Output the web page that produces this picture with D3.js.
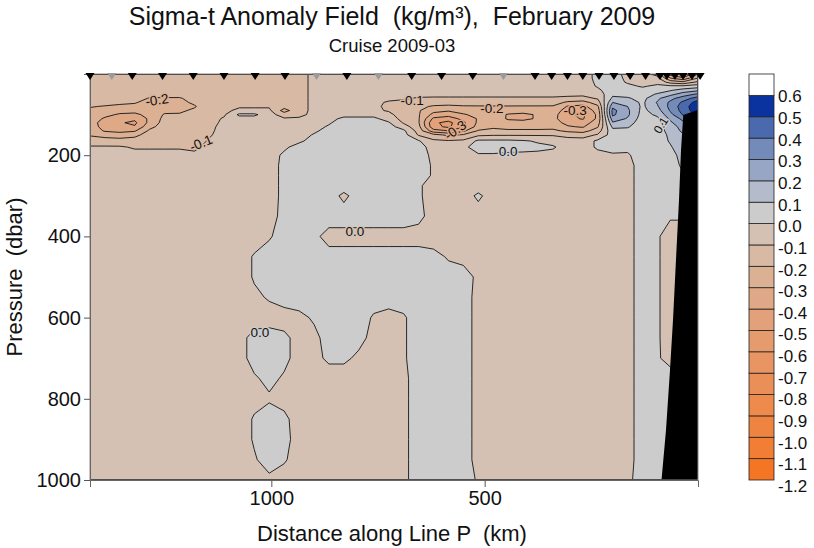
<!DOCTYPE html>
<html><head><meta charset="utf-8">
<script src="https://cdn.jsdelivr.net/npm/d3@7"></script>
<style>
body{margin:0;background:#fff;}
svg text{font-family:"Liberation Sans",Arial,Helvetica,sans-serif;fill:#111;white-space:pre;}
</style></head><body>
<svg id="chart" width="814" height="548"></svg>
<script>
// ---------- DATA ----------
// grid columns: distance along Line P (km)
const distKm = [1425,1390,1355,1320,1285,1250,1215,1180,1145,1110,1075,1040,1005,970,935,900,865,830,795,760,725,690,655,620,585,550,515,480,445,410,375,340,305,270,235,200,165,130,95,65,35,0];
// grid rows: pressure (dbar)
const pressure = [0,10,20,30,40,50,60,70,80,90,100,110,120,130,140,150,165,180,200,225,250,275,300,350,400,450,500,550,600,650,700,750,800,850,900,950,1000];
// sigma-t anomaly (kg/m3), one row per pressure level, one value per distance column
const sigmaT = [
[-.15,-.15,-.15,-.15,-.15,-.15,-.15,-.14,-.13,-.13,-.13,-.13,-.13,-.13,-.13,-.08,-.05,-.05,-.05,-.05,-.05,-.05,-.05,-.05,-.05,-.05,-.05,-.05,-.05,-.05,-.05,-.05,-.05,-.05,.03,.04,-.03,-.08,-.12,-.45,-.55,-.30],
[-.15,-.15,-.15,-.15,-.15,-.15,-.15,-.14,-.13,-.13,-.13,-.13,-.13,-.13,-.13,-.08,-.05,-.05,-.05,-.05,-.05,-.05,-.05,-.05,-.05,-.05,-.05,-.05,-.05,-.05,-.05,-.05,-.05,-.05,.03,.04,-.02,-.06,-.08,-.30,-.38,-.20],
[-.15,-.15,-.15,-.15,-.15,-.15,-.15,-.14,-.13,-.13,-.13,-.13,-.13,-.13,-.13,-.08,-.05,-.05,-.05,-.05,-.05,-.05,-.05,-.05,-.05,-.05,-.05,-.05,-.05,-.05,-.05,-.05,-.05,-.05,.02,.04,-.01,-.04,-.03,-.14,-.18,-.08],
[-.15,-.15,-.15,-.15,-.15,-.15,-.15,-.14,-.13,-.13,-.13,-.13,-.13,-.13,-.13,-.08,-.05,-.05,-.05,-.05,-.05,-.05,-.05,-.05,-.05,-.05,-.05,-.05,-.05,-.05,-.05,-.05,-.05,-.05,.01,.05,.02,-.01,.02,.02,.02,.05],
[-.15,-.15,-.15,-.15,-.15,-.15,-.15,-.14,-.13,-.13,-.13,-.13,-.13,-.13,-.13,-.08,-.05,-.05,-.05,-.05,-.05,-.05,-.05,-.05,-.05,-.05,-.05,-.05,-.05,-.05,-.05,-.05,-.05,-.05,-.02,.06,.04,.03,.06,.09,.14,.18],
[-.15,-.15,-.15,-.15,-.15,-.16,-.16,-.14,-.13,-.13,-.13,-.13,-.13,-.13,-.13,-.08,-.05,-.05,-.05,-.05,-.06,-.07,-.07,-.08,-.08,-.08,-.08,-.08,-.08,-.08,-.08,-.08,-.08,-.08,-.06,.08,.07,.06,.11,.17,.25,.32],
[-.15,-.15,-.15,-.15,-.21,-.21,-.21,-.16,-.13,-.13,-.13,-.13,-.13,-.13,-.13,-.08,-.05,-.05,-.05,-.05,-.08,-.09,-.11,-.11,-.11,-.11,-.11,-.11,-.11,-.11,-.11,-.11,-.12,-.13,-.09,.12,.11,.07,.18,.27,.35,.45],
[-.15,-.15,-.18,-.19,-.24,-.24,-.23,-.18,-.13,-.13,-.13,-.13,-.13,-.13,-.13,-.08,-.05,-.05,-.05,-.08,-.11,-.12,-.15,-.16,-.16,-.15,-.14,-.13,-.13,-.14,-.14,-.15,-.22,-.24,-.15,.20,.16,.08,.21,.32,.42,.55],
[-.19,-.21,-.22,-.23,-.25,-.24,-.23,-.21,-.13,-.13,-.11,-.11,-.11,-.16,-.13,-.08,-.05,-.05,-.05,-.08,-.12,-.15,-.18,-.21,-.22,-.21,-.21,-.21,-.21,-.21,-.21,-.21,-.31,-.33,-.22,.28,.20,.08,.19,.33,.45,.58],
[-.23,-.25,-.27,-.27,-.26,-.23,-.22,-.18,-.13,-.12,-.08,-.08,-.08,-.24,-.13,-.08,-.05,-.05,-.05,-.08,-.11,-.16,-.19,-.27,-.29,-.26,-.24,-.22,-.24,-.26,-.25,-.24,-.35,-.38,-.26,.33,.22,.07,.16,.31,.44,.57],
[-.25,-.28,-.31,-.32,-.27,-.19,-.19,-.16,-.13,-.11,.02,.02,-.06,-.15,-.12,-.08,-.05,-.03,-.03,-.03,-.07,-.16,-.19,-.33,-.36,-.31,-.27,-.24,-.31,-.32,-.29,-.26,-.38,-.42,-.28,.32,.22,.06,.12,.27,.41,.52],
[-.26,-.31,-.36,-.38,-.28,-.17,-.16,-.14,-.13,-.09,-.04,-.04,-.04,-.09,-.09,-.07,-.03,.02,.02,.02,-.04,-.14,-.19,-.42,-.45,-.37,-.29,-.25,-.31,-.32,-.29,-.27,-.37,-.41,-.28,.26,.19,.05,.08,.22,.33,.45],
[-.27,-.33,-.39,-.42,-.27,-.16,-.15,-.14,-.13,-.08,-.05,-.05,-.05,-.06,-.07,-.05,-.01,.04,.04,.04,.01,-.11,-.19,-.48,-.53,-.42,-.28,-.24,-.27,-.27,-.26,-.26,-.33,-.35,-.25,.19,.15,.04,.06,.18,.28,.40],
[-.26,-.33,-.37,-.39,-.23,-.15,-.15,-.14,-.13,-.06,-.05,-.05,-.05,-.05,-.05,-.03,.01,.04,.04,.04,.04,-.05,-.17,-.47,-.52,-.41,-.26,-.22,-.24,-.24,-.24,-.23,-.29,-.31,-.21,.12,.11,.04,.05,.15,.24,.35],
[-.24,-.31,-.33,-.31,-.18,-.15,-.15,-.14,-.12,-.06,-.05,-.05,-.05,-.05,-.05,-.02,.04,.04,.04,.04,.04,.02,-.14,-.36,-.40,-.32,-.19,-.17,-.18,-.18,-.18,-.18,-.22,-.24,-.15,.07,.07,.04,.05,.14,.22,.30],
[-.21,-.24,-.25,-.23,-.15,-.14,-.14,-.14,-.11,-.06,-.05,-.05,-.05,-.05,-.05,.01,.04,.04,.04,.04,.04,.04,-.11,-.17,-.22,-.19,-.12,-.11,-.11,-.11,-.11,-.11,-.13,-.14,-.09,.05,.04,.04,.05,.12,.19,.25],
[-.15,-.15,-.16,-.15,-.14,-.13,-.13,-.14,-.09,-.06,-.05,-.05,-.05,-.05,-.02,.04,.04,.04,.04,.04,.04,.04,.01,-.08,-.09,-.08,.02,.02,.02,.01,-.01,-.03,-.06,-.06,.02,.04,.04,.04,.05,.11,.18,.20],
[-.09,-.09,-.09,-.11,-.11,-.11,-.11,-.12,-.07,-.05,-.05,-.05,-.05,-.02,.04,.04,.04,.04,.04,.04,.04,.04,.04,-.04,-.05,-.02,.04,.04,.04,.03,.02,.01,-.04,-.03,.01,.03,.02,.04,.05,.09,.16,.15],
[-.06,-.06,-.06,-.07,-.07,-.07,-.07,-.08,-.05,-.05,-.05,-.05,-.05,.02,.04,.04,.04,.04,.04,.04,.04,.04,.04,-.02,-.05,-.05,-.01,-.01,-.02,-.02,-.02,-.03,-.05,-.05,-.02,-.01,-.01,.04,.05,.06,.14,.10],
[-.05,-.05,-.05,-.05,-.05,-.05,-.05,-.05,-.05,-.05,-.05,-.05,-.05,.03,.04,.04,.04,.04,.04,.04,.04,.04,.04,-.01,-.05,-.05,-.05,-.05,-.05,-.05,-.05,-.05,-.05,-.05,-.05,-.04,-.03,.04,.04,.05,.12,.06],
[-.05,-.05,-.05,-.05,-.05,-.05,-.05,-.05,-.05,-.05,-.05,-.05,-.05,.03,.04,.04,.04,.04,.04,.04,.04,.04,.04,-.01,-.05,-.05,-.05,-.05,-.05,-.05,-.05,-.05,-.05,-.05,-.05,-.05,-.03,.04,.04,.04,.09,.04],
[-.05,-.05,-.05,-.05,-.05,-.05,-.05,-.05,-.05,-.05,-.05,-.05,-.05,.03,.04,.04,.04,.04,.04,.04,.04,.04,.01,-.03,-.05,-.05,-.05,-.05,-.05,-.05,-.05,-.05,-.05,-.05,-.05,-.05,-.03,.04,.04,.04,.06,.04],
[-.05,-.05,-.05,-.05,-.05,-.05,-.05,-.05,-.05,-.05,-.05,-.05,-.05,.03,.04,.04,.04,-.02,.04,.04,.04,.04,.01,-.03,-.05,-.05,.02,-.05,-.05,-.05,-.05,-.05,-.05,-.05,-.05,-.05,-.03,.04,.04,.04,.04,.04],
[-.05,-.05,-.05,-.05,-.05,-.05,-.05,-.05,-.05,-.05,-.05,-.05,-.05,.04,.04,.04,.04,.04,.04,.04,.04,.04,.02,-.03,-.05,-.05,-.05,-.05,-.05,-.05,-.05,-.05,-.05,-.05,-.05,-.05,-.03,.04,.04,.01,.01,.04],
[-.05,-.05,-.05,-.05,-.05,-.05,-.05,-.05,-.05,-.05,-.05,-.05,-.01,.04,.04,.02,-.03,-.03,-.03,-.03,-.03,-.03,-.03,-.05,-.05,-.04,-.05,-.05,-.05,-.05,-.05,-.05,-.05,-.05,-.05,-.05,-.03,.04,.01,-.04,-.04,.04],
[-.05,-.05,-.05,-.05,-.05,-.05,-.05,-.05,-.05,-.05,-.05,.01,.04,.03,.03,.03,.03,.03,.03,.03,.03,.03,.03,.03,-.01,-.03,-.05,-.05,-.05,-.05,-.05,-.05,-.05,-.05,-.05,-.05,-.03,.04,.01,-.04,-.04,.04],
[-.05,-.05,-.05,-.05,-.05,-.05,-.05,-.05,-.05,-.05,-.05,.01,.04,.04,.04,.04,.04,.04,.04,.04,.04,.04,.04,.04,.04,.04,-.02,-.05,-.05,-.05,-.05,-.05,-.05,-.05,-.05,-.05,-.03,.04,.01,-.04,-.04,.04],
[-.05,-.05,-.05,-.05,-.05,-.05,-.05,-.05,-.05,-.05,-.05,-.02,.01,.04,.04,.04,.04,.04,.04,.04,.04,.04,.04,.04,.04,.04,-.03,-.05,-.05,-.05,-.05,-.05,-.05,-.05,-.05,-.05,-.03,.04,.01,-.04,-.04,.04],
[-.05,-.05,-.05,-.05,-.05,-.05,-.05,-.05,-.05,-.05,-.04,-.04,-.04,-.04,-.02,.01,.04,.04,.04,-.01,-.03,-.01,.04,.04,.04,.04,-.03,-.05,-.05,-.05,-.05,-.05,-.05,-.05,-.05,-.05,-.03,.04,.01,-.04,-.04,.04],
[-.05,-.05,-.05,-.05,-.05,-.05,-.05,-.05,-.05,-.05,-.03,.03,.04,.02,-.03,-.02,.03,.04,.03,-.03,-.04,-.01,.04,.04,.04,.04,-.03,-.05,-.05,-.05,-.05,-.05,-.05,-.05,-.05,-.05,-.03,.04,.01,-.04,-.04,.04],
[-.05,-.05,-.05,-.05,-.05,-.05,-.05,-.05,-.05,-.05,-.03,.03,.04,.02,-.03,-.03,.02,.02,-.02,-.04,-.04,-.01,.04,.04,.04,.04,-.03,-.05,-.05,-.05,-.05,-.05,-.05,-.05,-.05,-.05,-.03,.04,.01,-.03,-.03,.04],
[-.05,-.05,-.05,-.05,-.05,-.05,-.05,-.05,-.05,-.05,-.04,-.01,.02,-.01,-.04,-.05,-.05,-.05,-.05,-.05,-.05,-.02,.04,.04,.04,.04,-.03,-.05,-.05,-.05,-.05,-.05,-.05,-.05,-.05,-.05,-.03,.04,.04,.04,.04,.04],
[-.05,-.05,-.05,-.05,-.05,-.05,-.05,-.05,-.05,-.05,-.05,-.03,-.01,-.03,-.05,-.05,-.05,-.05,-.05,-.05,-.05,-.02,.04,.04,.04,.04,-.03,-.05,-.05,-.05,-.05,-.05,-.05,-.05,-.05,-.05,-.03,.04,.04,.04,.04,.04],
[-.05,-.05,-.05,-.05,-.05,-.05,-.05,-.05,-.05,-.05,-.05,.01,.04,.02,-.04,-.05,-.05,-.05,-.05,-.05,-.05,-.02,.04,.04,.04,.04,-.03,-.05,-.05,-.05,-.05,-.05,-.05,-.05,-.05,-.05,-.03,.04,.04,.04,.04,.04],
[-.05,-.05,-.05,-.05,-.05,-.05,-.05,-.05,-.05,-.05,-.05,.01,.04,.03,-.04,-.05,-.05,-.05,-.05,-.05,-.05,-.02,.04,.04,.04,.04,-.03,-.05,-.05,-.05,-.05,-.05,-.05,-.05,-.05,-.05,-.03,.04,.04,.04,.04,.04],
[-.05,-.05,-.05,-.05,-.05,-.05,-.05,-.05,-.05,-.05,-.05,-.01,.04,.01,-.04,-.05,-.05,-.05,-.05,-.05,-.05,-.02,.04,.04,.04,.04,-.03,-.05,-.05,-.05,-.05,-.05,-.05,-.05,-.05,-.05,-.03,.04,.04,.04,.04,.04],
[-.05,-.05,-.05,-.05,-.05,-.05,-.05,-.05,-.05,-.05,-.05,-.04,-.02,-.04,-.05,-.05,-.05,-.05,-.05,-.05,-.05,-.02,.04,.04,.04,.04,-.01,-.05,-.05,-.05,-.05,-.05,-.05,-.05,-.05,-.05,-.02,.04,.04,.04,.04,.04]
];
// contour levels (lower bound of each colour band) and band colours
const levels = [-1.2,-1.1,-1.0,-0.9,-0.8,-0.7,-0.6,-0.5,-0.4,-0.3,-0.2,-0.1,0.0,0.1,0.2,0.3,0.4,0.5,0.6];
const levelColors = ["#f47624","#f27d34","#ef8441","#ed8a4c","#ea8f57","#e89563","#e59b6e","#e2a17a","#dfa887","#dcb093","#d8b9a3","#d4c1b3","#cccccc","#b4bbcb","#97a6c4","#738bb9","#4a6aad","#0a33a0","#ffffff"];
// CTD stations along the line (km) and whether the marker is grey
const stationKm = [1425,1374,1326,1255,1183,1111,1038,968,894,823,749,671,601,528,456,382,343,306,270,232,197,159,123,89,73,54,35,14,-5];
const stationGrey = [0,1,0,0,0,0,0,0,1,0,1,0,0,0,1,0,0,0,0,0,0,0,0,0,0,0,0,0,0];
// bottom topography (continental slope)
const bathyKm = [85.5,75,65.6,58.6,51.6,44.5,39.8,34.5,0];
const bathyDbar = [1000,877,729,606,458,310,187,101,88];
// contour labels
const labelText = ["-0.2","-0.1","-0.1","-0.2","-0.3","-0.3","0.0","0.0","0.0","0.1"];
const labelKm   = [1268,1165,670,483,288,569,445,804,1027,87];
const labelDbar = [64,170,64,84,89,138,190,387,635,126];
const labelAngle= [-8,-22,0,0,0,-35,0,0,0,-58];
// axis ticks
const xTicks = [1000,500];
const yTicks = [200,400,600,800,1000];

// ---------- DRAW ----------
const svg = d3.select("#chart");
const x = d3.scaleLinear().domain([1425,0]).range([90,698]);
const y = d3.scaleLinear().domain([0,1000]).range([74,480]);

const nx = distKm.length, ny = pressure.length;
const colToKm = d3.scaleLinear().domain(d3.range(nx)).range(distKm);
const rowToDbar = d3.scaleLinear().domain(d3.range(ny)).range(pressure);
const kmToCol = d3.scaleLinear().domain(distKm).range(d3.range(nx));
const dbarToRow = d3.scaleLinear().domain(pressure).range(d3.range(ny));
const cl = (c,n)=>Math.max(0,Math.min(n-1,c-0.5));
const proj = d3.geoTransform({point(px,py){ this.stream.point(x(colToKm(cl(px,nx))), y(rowToDbar(cl(py,ny)))); }});
const path = d3.geoPath(proj);

const bad = sigmaT.findIndex(r=>r.length!==nx);
if (bad>=0) svg.append("text").attr("x",100).attr("y",300).text("row "+bad+" len "+sigmaT[bad].length);

const flat = sigmaT.flat();
const contours = d3.contours().size([nx,ny]).thresholds(levels)(flat);

svg.append("defs").append("clipPath").attr("id","plotclip")
  .append("rect").attr("x",90).attr("y",74).attr("width",608).attr("height",406);

const plot = svg.append("g").attr("clip-path","url(#plotclip)");
plot.append("g").selectAll("path").data(contours).join("path")
  .attr("d",path).attr("fill",(d,i)=>levelColors[i]).attr("stroke","none");
plot.append("g").selectAll("path").data(contours.slice(1)).join("path")
  .attr("d",path).attr("fill","none").attr("stroke","#151515").attr("stroke-width",0.9).attr("stroke-linejoin","round");

// contour labels
function sample(km,p){
  const c = kmToCol(km), r = dbarToRow(p);
  const c0 = Math.max(0,Math.min(nx-2,Math.floor(c))), r0 = Math.max(0,Math.min(ny-2,Math.floor(r)));
  const fc = c-c0, fr = r-r0;
  const v00=sigmaT[r0][c0], v01=sigmaT[r0][c0+1], v10=sigmaT[r0+1][c0], v11=sigmaT[r0+1][c0+1];
  return (v00*(1-fc)+v01*fc)*(1-fr)+(v10*(1-fc)+v11*fc)*fr;
}
function bandColor(v){ let i=d3.bisectRight(levels,v)-1; i=Math.max(0,Math.min(levels.length-1,i)); return levelColors[i]; }
plot.append("g").selectAll("text").data(labelText).join("text")
  .attr("transform",(d,i)=>`translate(${x(labelKm[i])},${y(labelDbar[i])}) rotate(${labelAngle[i]})`)
  .attr("text-anchor","middle").attr("dy","0.35em")
  .style("font-size",(d,i)=>i===9?"12px":"13.5px")
  .style("paint-order","stroke").attr("stroke",(d,i)=>bandColor(sample(labelKm[i],labelDbar[i])))
  .attr("stroke-width",3).attr("stroke-linejoin","round")
  .text(d=>d);

// bathymetry
const bathy = bathyKm.map((k,i)=>[k,bathyDbar[i]]);
plot.append("path").datum(bathy)
  .attr("d",d3.area().x(d=>x(d[0])).y0(y(1000)+2).y1(d=>y(d[1])))
  .attr("fill","#000");

// frame
svg.append("rect").attr("x",90).attr("y",74).attr("width",608).attr("height",406)
  .attr("fill","none").attr("stroke","#8a8a8a").attr("stroke-width",1);

// axes
const yAxis = svg.append("g").attr("transform","translate(90,0)")
  .call(d3.axisLeft(y).tickValues(yTicks).tickSize(6).tickPadding(3).tickFormat(d=>String(d)));
const xAxis = svg.append("g").attr("transform","translate(0,480)")
  .call(d3.axisBottom(x).tickValues(xTicks).tickSize(7).tickPadding(4).tickFormat(d=>String(d)));
[yAxis,xAxis].forEach(a=>{
  a.select(".domain").attr("stroke","#666");
  a.selectAll(".tick line").attr("stroke","#555");
  a.selectAll("text").style("font-size","20px").attr("fill","#111").style("font-family",null);
});

// station markers
svg.append("g").selectAll("path").data(stationKm).join("path")
  .attr("d",d=>{const X=x(d);return `M${X-4.5},73L${X+4.5},73L${X},80Z`;})
  .attr("fill",(d,i)=>stationGrey[i]?"#9a9a9a":"#000");

// titles
svg.append("text").attr("x",392).attr("y",25).attr("text-anchor","middle").style("font-size","25px")
  .text("Sigma-t Anomaly Field  (kg/m³),  February 2009");
svg.append("text").attr("x",392).attr("y",52).attr("text-anchor","middle").style("font-size","18.5px")
  .text("Cruise 2009-03");
svg.append("text").attr("x",392).attr("y",541).attr("text-anchor","middle").style("font-size","22px")
  .text("Distance along Line P  (km)");
svg.append("text").attr("transform","translate(22,277) rotate(-90)").attr("text-anchor","middle").style("font-size","22px")
  .text("Pressure  (dbar)");

// colour bar
const yLeg = d3.scaleLinear().domain([-1.2,0.7]).range([480,74]);
const yLab = d3.scaleLinear().domain([-1.2,0.6]).range([486,96.5]);
const leg = svg.append("g");
leg.selectAll("rect").data(levels).join("rect")
  .attr("x",749).attr("width",25)
  .attr("y",d=>yLeg(d+0.1)).attr("height",d=>yLeg(d)-yLeg(d+0.1))
  .attr("fill",(d,i)=>levelColors[i]).attr("stroke","#222").attr("stroke-width",0.8);
leg.selectAll("text").data(levels).join("text")
  .attr("x",778).attr("y",d=>yLab(d)).attr("dy","0.35em")
  .style("font-size","17px")
  .text(d=>d.toFixed(1));
</script>
</body></html>
